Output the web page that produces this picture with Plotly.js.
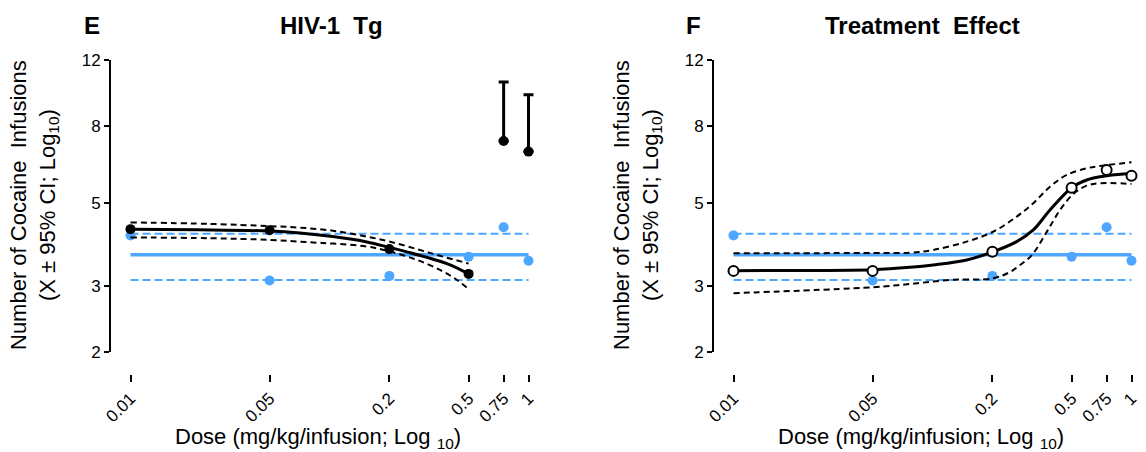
<!DOCTYPE html>
<html>
<head>
<meta charset="utf-8">
<script src="https://cdn.plot.ly/plotly-3.0.1.min.js"></script>
<style>html,body{margin:0;padding:0;background:#fff;}#chart{width:1146px;height:452px;}</style>
</head>
<body>
<div id="chart"></div>
<script>
// ---- Data ----
const doses = [0.01, 0.05, 0.2, 0.5, 0.75, 1];
const doseTickText = ['0.01', '0.05', '0.2', '0.5', '0.75', '1'];
const yTickVals = [2, 3, 5, 8, 12];
const yTickText = ['2', '3', '5', '8', '12'];

// Control (blue) data, shown in both panels
const controlPoints = [4.09, 3.10, 3.19, 3.59, 4.30, 3.50];
const controlMean = [3.63, 3.63];
const controlUpper = [4.13, 4.13];
const controlLower = [3.11, 3.11];
const controlLineX = [0.01, 1];

// Panel E: HIV-1 Tg
const tgDoses = [0.01, 0.05, 0.2, 0.5];
const tgPoints = [4.25, 4.22, 3.76, 3.23];
const tgHighDoses = [0.75, 1];
const tgHighPoints = [7.30, 6.84];
const tgHighUpperCI = [10.48, 9.70];
const tgFitX = [0.01, 0.022, 0.05, 0.071, 0.104, 0.154, 0.2, 0.253, 0.329, 0.401, 0.5];
const tgFitY = [4.25, 4.235, 4.20, 4.15, 4.06, 3.93, 3.80, 3.68, 3.54, 3.42, 3.23];
const tgUpperX = [0.01, 0.025, 0.05, 0.071, 0.104, 0.154, 0.2, 0.275, 0.359, 0.5];
const tgUpperY = [4.43, 4.39, 4.33, 4.29, 4.21, 4.06, 3.94, 3.76, 3.61, 3.44];
const tgLowerX = [0.01, 0.025, 0.05, 0.08, 0.104, 0.154, 0.2, 0.275, 0.359, 0.427, 0.5];
const tgLowerY = [4.04, 4.02, 3.98, 3.92, 3.89, 3.82, 3.71, 3.52, 3.31, 3.14, 2.94];

// Panel F: Treatment Effect
const trtPoints = [3.29, 3.29, 3.70, 5.48, 6.11, 5.90];
const trtFitX = [0.01, 0.0216, 0.05, 0.0771, 0.1009, 0.1486, 0.2021, 0.2649, 0.321, 0.3894, 0.5005, 0.5957, 0.6947, 1];
const trtFitY = [3.294, 3.298, 3.314, 3.363, 3.412, 3.518, 3.702, 3.937, 4.229, 4.780, 5.482, 5.747, 5.864, 5.988];
const trtUpperX = [0.01, 0.05, 0.0771, 0.1009, 0.1486, 0.2021, 0.2649, 0.321, 0.3894, 0.4725, 0.5957, 0.6947, 1];
const trtUpperY = [3.665, 3.672, 3.679, 3.741, 3.937, 4.185, 4.589, 4.983, 5.516, 5.926, 6.173, 6.262, 6.405];
const trtLowerX = [0.01, 0.05, 0.0771, 0.1225, 0.2021, 0.2453, 0.2754, 0.3151, 0.3749, 0.4373, 0.5101, 0.5957, 0.6947, 1];
const trtLowerY = [2.869, 2.976, 3.036, 3.112, 3.144, 3.268, 3.412, 3.62, 4.177, 4.78, 5.275, 5.55, 5.633, 5.61];

// ---- Styles ----
const FONT = 'Liberation Sans, Arial, sans-serif';
const BLUE = '#4da6ff';
const W = 1146, H = 452;
const px = v => v / W;
const py = v => 1 - v / H;
const PAD = 12;               // px of extra plot width on each side (so edge marks are not clipped)
const PX_PER_DEC = 199;       // px per decade on the dose axis
const padDec = PAD / PX_PER_DEC;

function panelTraces(xa, ya, blackTraces) {
  const base = [
    {x: controlLineX, y: controlUpper, mode: 'lines', line: {color: BLUE, width: 2, dash: '8px,4px'}},
    {x: controlLineX, y: controlLower, mode: 'lines', line: {color: BLUE, width: 2, dash: '8px,4px'}},
    {x: controlLineX, y: controlMean, mode: 'lines', line: {color: BLUE, width: 3.5}},
    {x: doses, y: controlPoints, mode: 'markers', marker: {color: BLUE, size: 10}, cliponaxis: false}
  ];
  return base.concat(blackTraces).map(t => Object.assign({xaxis: xa, yaxis: ya, showlegend: false, hoverinfo: 'skip', type: 'scatter'}, t));
}

const dashBlack = {color: '#000', width: 2, dash: '6px,4px', shape: 'spline'};
const tracesE = panelTraces('x', 'y', [
  {x: tgUpperX, y: tgUpperY, mode: 'lines', line: dashBlack},
  {x: tgLowerX, y: tgLowerY, mode: 'lines', line: dashBlack},
  {x: tgFitX, y: tgFitY, mode: 'lines', line: {color: '#000', width: 3, shape: 'spline'}},
  {x: tgDoses, y: tgPoints, mode: 'markers', marker: {color: '#000', size: 10}, cliponaxis: false},
  {x: tgHighDoses, y: tgHighPoints, mode: 'markers', marker: {color: '#000', size: 10}, cliponaxis: false,
   error_y: {type: 'data', symmetric: false,
             array: tgHighUpperCI.map((u, i) => u - tgHighPoints[i]),
             arrayminus: tgHighPoints.map(() => 0),
             color: '#000', thickness: 3, width: 5}}
]);
const tracesF = panelTraces('x2', 'y2', [
  {x: trtUpperX, y: trtUpperY, mode: 'lines', line: dashBlack},
  {x: trtLowerX, y: trtLowerY, mode: 'lines', line: dashBlack},
  {x: trtFitX, y: trtFitY, mode: 'lines', line: {color: '#000', width: 3, shape: 'spline'}},
  {x: doses, y: trtPoints, mode: 'markers', marker: {color: '#fff', size: 10, line: {color: '#000', width: 2}}, cliponaxis: false}
]);

function xAxis(d0, d1) {
  return {type: 'log', range: [-2 - padDec, 0 + padDec], domain: [px(d0 - PAD), px(d1 + PAD)], anchor: 'free', position: py(374),
    showline: false, ticks: 'outside', ticklen: 7, tickwidth: 2, tickcolor: '#000',
    tickvals: doses, ticktext: doseTickText, tickangle: -45, showgrid: false, zeroline: false,
    title: {text: ''}, tickfont: {family: FONT, size: 17, color: '#000'}};
}
function yAxis(pos) {
  return {type: 'log', range: [Math.log10(2), Math.log10(12)], domain: [py(352), py(60)], anchor: 'free', position: px(pos),
    showline: true, linecolor: '#000', linewidth: 2, ticks: 'outside', ticklen: 5, tickwidth: 2, tickcolor: '#000',
    tickvals: yTickVals, ticktext: yTickText, showgrid: false, zeroline: false,
    title: {text: ''}, tickfont: {family: FONT, size: 17, color: '#000'}};
}
function xAxisLine(xref) {
  return {type: 'line', xref: xref, yref: 'paper', x0: -2, x1: 0, y0: py(374), y1: py(374),
    line: {color: '#000', width: 2}, layer: 'above'};
}

const ytitle = 'Number of Cocaine\u00a0 Infusions<br>(X ± 95% CI; Log<sub>10</sub>)';
const xtitle = 'Dose (mg/kg/infusion; Log\u00a0<sub>10</sub>)';
function ann(text, x, y, size, bold, angle) {
  return {text: bold ? '<b>' + text + '</b>' : text, x: px(x), y: py(y), xref: 'paper', yref: 'paper',
    showarrow: false, xanchor: 'center', yanchor: 'middle', textangle: angle || 0,
    font: {family: FONT, size: size, color: '#000'}};
}

const layout = {
  width: W, height: H, margin: {l: 0, r: 0, t: 0, b: 0},
  paper_bgcolor: '#fff', plot_bgcolor: 'rgba(0,0,0,0)', showlegend: false,
  xaxis: xAxis(130.5, 528.5), yaxis: yAxis(110),
  xaxis2: xAxis(733.5, 1131.5), yaxis2: yAxis(713),
  shapes: [xAxisLine('x'), xAxisLine('x2')],
  annotations: [
    ann('E', 92, 25, 24, true), ann('HIV-1\u00a0 Tg', 331, 25, 24, true),
    ann('F', 693, 25, 24, true), ann('Treatment\u00a0 Effect', 922, 25, 24, true),
    ann(ytitle, 34, 205, 22, false, -90), ann(ytitle, 637, 205, 22, false, -90),
    ann(xtitle, 318, 438, 22, false), ann(xtitle, 921, 438, 22, false)
  ]
};

Plotly.newPlot('chart', tracesE.concat(tracesF), layout, {displayModeBar: false, staticPlot: true});
</script>
</body>
</html>
